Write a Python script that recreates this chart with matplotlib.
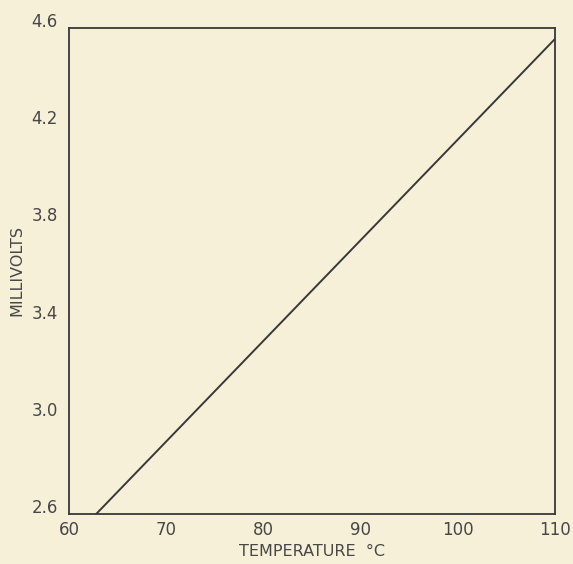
import matplotlib
matplotlib.use('Agg')
import matplotlib.pyplot as plt
import matplotlib.transforms as mtransforms

# values
temperature = [62.8, 110.0]
millivolts = [2.6, 4.555]
x_ticks = [60, 70, 80, 90, 100, 110]
x_labels = ['60', '70', '80', '90', '100', '110']
y_ticks = [2.6, 3.0, 3.4, 3.8, 4.2, 4.6]
y_labels = ['2.6', '3.0', '3.4', '3.8', '4.2', '4.6']

paper = '#f7f0d8'
ink = '#383838'
text_ink = '#474747'

fig = plt.figure(figsize=(5.73, 5.64), dpi=100, facecolor=paper)
ax = fig.add_axes([0.1204, 0.0887, 0.8482, 0.8617], facecolor=paper)

ax.plot(temperature, millivolts, color=ink, lw=1.4)
ax.set_xlim(60, 110)
ax.set_ylim(2.6, 4.6)

ax.set_xticks(x_ticks)
ax.set_xticklabels(x_labels)
ax.set_yticks(y_ticks)
ax.set_yticklabels(y_labels)
ax.tick_params(length=0, labelsize=12, labelcolor=text_ink, pad=5)
ax.tick_params(axis='y', pad=8)

# y labels in the scan sit a little above their values
shift = mtransforms.ScaledTranslation(0, 0.08, fig.dpi_scale_trans)
for lab in ax.get_yticklabels():
    lab.set_transform(lab.get_transform() + shift)

for s in ax.spines.values():
    s.set_color(ink)
    s.set_linewidth(1.3)

ax.set_xlabel('TEMPERATURE  \u00b0C', fontsize=11.5, color=text_ink, labelpad=4)
ax.set_ylabel('MILLIVOLTS', fontsize=11.5, color=text_ink, labelpad=5)

fig.savefig('out.png', dpi=100, facecolor=paper)
